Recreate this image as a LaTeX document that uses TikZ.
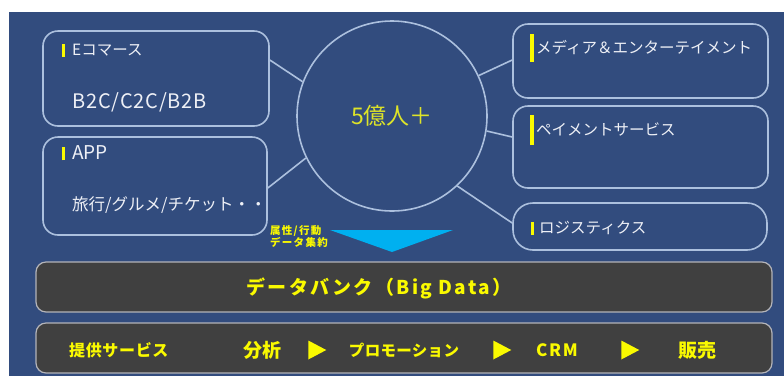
\documentclass[tikz,border=0pt]{standalone}
\usepackage{fontspec}
\setmainfont{Noto Sans CJK JP}
\usetikzlibrary{positioning,shapes.geometric}
\definecolor{bgblue}{RGB}{50,76,126}
\definecolor{edgeblue}{RGB}{172,192,222}
\definecolor{bandgray}{RGB}{64,64,64}
\definecolor{bandedge}{RGB}{180,180,185}
\definecolor{markyellow}{RGB}{250,250,0}
\definecolor{hubyellow}{RGB}{222,228,40}
\definecolor{textwhite}{RGB}{238,240,246}
\definecolor{flowcyan}{RGB}{0,176,240}
\newcommand\ybar[2]{\textcolor{markyellow}{\rule[\dimexpr 5.5pt-#2/2\relax]{#1}{#2}}}
\tikzset{
  panel/.style = {draw=edgeblue, line width=1.6pt, rounded corners=15pt, fill=bgblue},
  hub/.style = {circle, draw=edgeblue, line width=1.6pt, fill=bgblue, minimum size=190pt, inner sep=0pt},
  link/.style = {draw=edgeblue, line width=1.6pt},
  band/.style = {draw=bandedge, line width=1.2pt, rounded corners=10pt, fill=bandgray},
  itemtext/.style = {anchor=west, inner sep=0pt, text=textwhite, font=\fontsize{15.5}{18}\selectfont},
  subtext/.style = {itemtext, font=\fontsize{16.5}{20}\selectfont},
  bandtext/.style = {inner sep=0pt, text=markyellow, font=\bfseries\fontsize{15.5}{18}\selectfont},
  kanjitext/.style = {bandtext, font=\bfseries\fontsize{19}{22}\selectfont},
  playmark/.style = {isosceles triangle, isosceles triangle stretches, fill=markyellow, inner sep=0pt, minimum height=18pt, minimum width=19pt},
}
\begin{document}
\begin{tikzpicture}[x=1pt, y=-1pt]
  \useasboundingbox (0,0) rectangle (784,376);
  \fill[bgblue] (9,12) rectangle (784,376);

  % service boxes round the user base
  \node[panel, minimum width=226pt, minimum height=95pt] (ecom) at (156,78.5) {};
  \node[panel, minimum width=224pt, minimum height=98pt] (app) at (155,186) {};
  \node[panel, minimum width=255pt, minimum height=74pt] (media) at (640.5,61) {};
  \node[panel, minimum width=255pt, minimum height=82pt] (pay) at (640.5,147) {};
  \node[panel, rounded corners=20pt, minimum width=254pt, minimum height=47pt] (logi) at (640,226.5) {};
  \node[hub] (users) at (392,116) {\fontsize{23}{26}\selectfont\color{hubyellow}5億人＋};

  \draw[link] ([yshift=18.5pt]ecom.east) -- (users.159);
  \draw[link] ([yshift=-2pt]app.east) -- (users.206);
  \draw[link] ([yshift=1pt]media.west) -- (users.25);
  \draw[link] ([yshift=10pt]pay.west) -- (users.-9);
  \draw[link] ([yshift=3.5pt]logi.west) -- (users.-47);

  \node[itemtext] (ecomT) at (62,50) {\ybar{3pt}{13pt}\hspace{7pt}Eコマース};
  \node[subtext, font=\fontsize{20}{24}\selectfont\addfontfeatures{LetterSpace=4}] (ecomS) at (72,102) {B2C/C2C/B2B};
  \node[itemtext] (appT) at (62,153) {\ybar{3pt}{13pt}\hspace{7pt}{\fontsize{19}{22}\selectfont APP}};
  \node[subtext] (appS) at (72,205) {旅行/グルメ/チケット・・};
  \node[itemtext] (mediaT) at (530,48) {\ybar{4pt}{28pt}\hspace{2pt}メディア＆エンターテイメント};
  \node[itemtext] (payT) at (530,130) {\ybar{4pt}{30pt}\hspace{2pt}ペイメントサービス};
  \node[itemtext] (logiT) at (531,228) {\ybar{3pt}{13pt}\hspace{5pt}ロジスティクス};

  % data gathered into the bank
  \fill[flowcyan] (330,230) -- (453,230) -- (392,252) -- cycle;
  \node[align=left, inner sep=0pt, text=markyellow, font=\bfseries\fontsize{10.5}{12}\selectfont\addfontfeatures{LetterSpace=12}] (gather) at (299,237) {属性/行動\\データ集約};

  \node[band, minimum width=736pt, minimum height=50pt] (bank) at (404,287) {};
  \node[bandtext, font=\bfseries\fontsize{19}{22}\selectfont\addfontfeatures{LetterSpace=12}] (bankT) at (379,288) {データバンク（Big Data）};

  \node[band, minimum width=736pt, minimum height=50pt] (offer) at (404,348) {};
  \node[bandtext, anchor=west, font=\bfseries\fontsize{16}{18}\selectfont\addfontfeatures{LetterSpace=4}] (offerT) at (69,350) {提供サービス};
  \node[kanjitext] (analyze) at (262,350) {分析};
  \node[playmark] (p1) at (314,350) {};
  \node[bandtext, font=\bfseries\fontsize{15.5}{18}\selectfont\addfontfeatures{LetterSpace=2}] (promo) at (404,350) {プロモーション};
  \node[playmark] (p2) at (499,350) {};
  \node[bandtext, font=\bfseries\fontsize{17}{20}\selectfont\addfontfeatures{LetterSpace=10}] (crm) at (557,350) {CRM};
  \node[playmark] (p3) at (627,350) {};
  \node[kanjitext] (sell) at (697,350) {販売};
\end{tikzpicture}
\end{document}
